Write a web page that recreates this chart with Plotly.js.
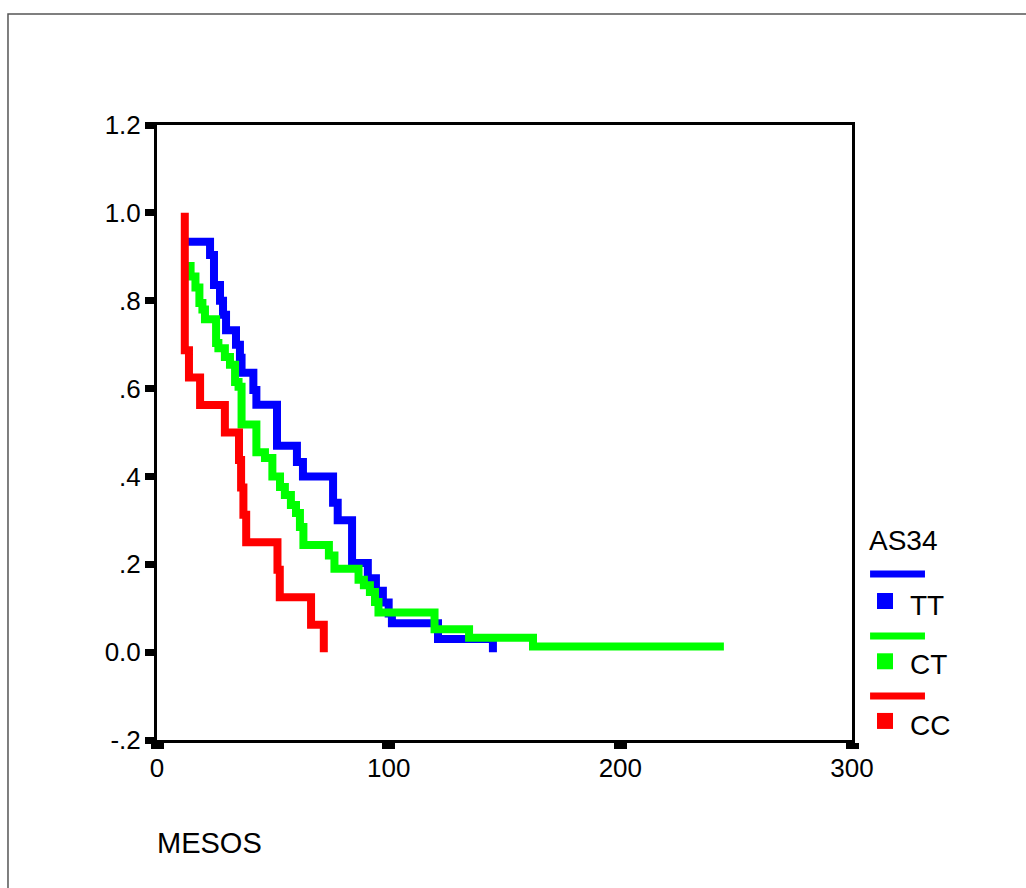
<!DOCTYPE html>
<html>
<head>
<meta charset="utf-8">
<script src="https://cdn.plot.ly/plotly-3.0.1.min.js"></script>
<style>
html,body{margin:0;padding:0;background:#fff;overflow:hidden;}
#chart{width:1026px;height:888px;}
</style>
</head>
<body>
<div id="chart"></div>
<script>
// ---- data ----
const groupTitle = "AS34";
const seriesNames = ["TT", "CT", "CC"];
const seriesColors = ["#0000ff", "#00ff00", "#ff0000"];

const ttTime = [12, 22.9, 24.6, 27.2, 28.5, 29.8, 34.1, 35.8, 36.5, 41.6, 42.9, 51.8, 60.4, 63, 76, 78, 84.2, 91, 94.5, 97.5, 100, 101.4, 121.3, 145];
const ttSurv = [0.934, 0.904, 0.836, 0.80, 0.768, 0.733, 0.70, 0.67, 0.636, 0.597, 0.563, 0.47, 0.433, 0.40, 0.34, 0.30, 0.203, 0.168, 0.14, 0.113, 0.088, 0.066, 0.03, 0.0];

const ctTime = [14.5, 14.5, 16.6, 18.3, 19.6, 20.7, 25.5, 26.5, 29.3, 31.5, 33.7, 35.2, 36.5, 42.9, 46.6, 49.8, 53.1, 55.2, 57.8, 60, 61.7, 63.2, 74.2, 76.6, 87, 89.3, 91.9, 94.1, 95.6, 119.8, 134.7, 162.3, 244.7];
const ctSurv = [0.888, 0.855, 0.83, 0.795, 0.78, 0.758, 0.704, 0.692, 0.672, 0.654, 0.615, 0.604, 0.518, 0.455, 0.442, 0.40, 0.376, 0.358, 0.335, 0.317, 0.285, 0.244, 0.22, 0.19, 0.165, 0.152, 0.137, 0.114, 0.09, 0.052, 0.033, 0.013, 0.013];

const ccTime = [12, 12, 13.8, 18.6, 29.3, 35.4, 36.3, 37.3, 38.5, 52, 53, 66.5, 72];
const ccSurv = [1.0, 0.6875, 0.625, 0.5625, 0.5, 0.4375, 0.375, 0.3125, 0.25, 0.1875, 0.125, 0.0625, 0.0];

const xTickVals = [0, 100, 200, 300];
const xTickText = ["0", "100", "200", "300"];
const yTickVals = [-0.2, 0, 0.2, 0.4, 0.6, 0.8, 1.0, 1.2];
const yTickText = ["-.2", "0.0", ".2", ".4", ".6", ".8", "1.0", "1.2"];
const xLabel = "MESOS";

// ---- build ----
const FONT = '"Liberation Sans", Arial, sans-serif';
const times = [ttTime, ctTime, ccTime];
const survs = [ttSurv, ctSurv, ccSurv];

const traces = seriesNames.map((name, i) => ({
  type: "scatter",
  mode: "lines",
  name: name,
  x: times[i],
  y: survs[i],
  line: {shape: "hv", color: seriesColors[i], width: 8},
  hoverinfo: "skip",
  showlegend: false
}));

const shapes = [];
const annotations = [];

// outer frame of the picture
shapes.push({type: "rect", xref: "paper", yref: "paper",
  x0: -0.2144, x1: 2, y0: -2, y1: 1.1805,
  line: {color: "#555", width: 1.5}, fillcolor: "rgba(0,0,0,0)"});

// custom legend
annotations.push({xref: "paper", yref: "paper", x: 1.0215, y: 0.325,
  xanchor: "left", yanchor: "middle", showarrow: false,
  text: groupTitle, font: {family: FONT, size: 28, color: "#000"}});

const legLineY = [0.270, 0.169, 0.0715];
const legSqY = [0.226, 0.128, 0.031];
const legTxtY = [0.2195, 0.122, 0.023];
seriesNames.forEach((name, i) => {
  shapes.push({type: "line", xref: "paper", yref: "paper",
    x0: 1.026, x1: 1.105, y0: legLineY[i], y1: legLineY[i],
    line: {color: seriesColors[i], width: 7}});
  shapes.push({type: "rect", xref: "paper", yref: "paper",
    x0: 1.036, x1: 1.059, y0: legSqY[i] - 0.013, y1: legSqY[i] + 0.013,
    line: {width: 0}, fillcolor: seriesColors[i]});
  annotations.push({xref: "paper", yref: "paper", x: 1.081, y: legTxtY[i],
    xanchor: "left", yanchor: "middle", showarrow: false,
    text: name, font: {family: FONT, size: 28, color: "#000"}});
});

// x-axis label, left aligned under the axis
annotations.push({xref: "paper", yref: "paper", x: -0.003, y: -0.167,
  xanchor: "left", yanchor: "middle", showarrow: false,
  text: xLabel, font: {family: FONT, size: 29, color: "#000"}});

const layout = {
  width: 1026, height: 888,
  margin: {l: 157, r: 174, t: 125, b: 148},
  paper_bgcolor: "#fff", plot_bgcolor: "#fff",
  showlegend: false,
  font: {family: FONT, size: 26, color: "#000"},
  xaxis: {
    range: [0, 300], tickmode: "array", tickvals: xTickVals, ticktext: xTickText,
    showgrid: false, zeroline: false,
    showline: true, linecolor: "#000", linewidth: 3, mirror: true,
    ticks: "outside", ticklen: 6, tickwidth: 13, tickcolor: "#000",
    ticklabelstandoff: -3,
    tickfont: {family: FONT, size: 26, color: "#000"}
  },
  yaxis: {
    range: [-0.2, 1.2], tickmode: "array", tickvals: yTickVals, ticktext: yTickText,
    showgrid: false, zeroline: false,
    showline: true, linecolor: "#000", linewidth: 3, mirror: true,
    ticks: "outside", ticklen: 9, tickwidth: 7, tickcolor: "#000",
    ticklabelstandoff: -1,
    tickfont: {family: FONT, size: 26, color: "#000"}
  },
  shapes: shapes,
  annotations: annotations
};

Plotly.newPlot("chart", traces, layout, {staticPlot: true, displayModeBar: false});
</script>
</body>
</html>
